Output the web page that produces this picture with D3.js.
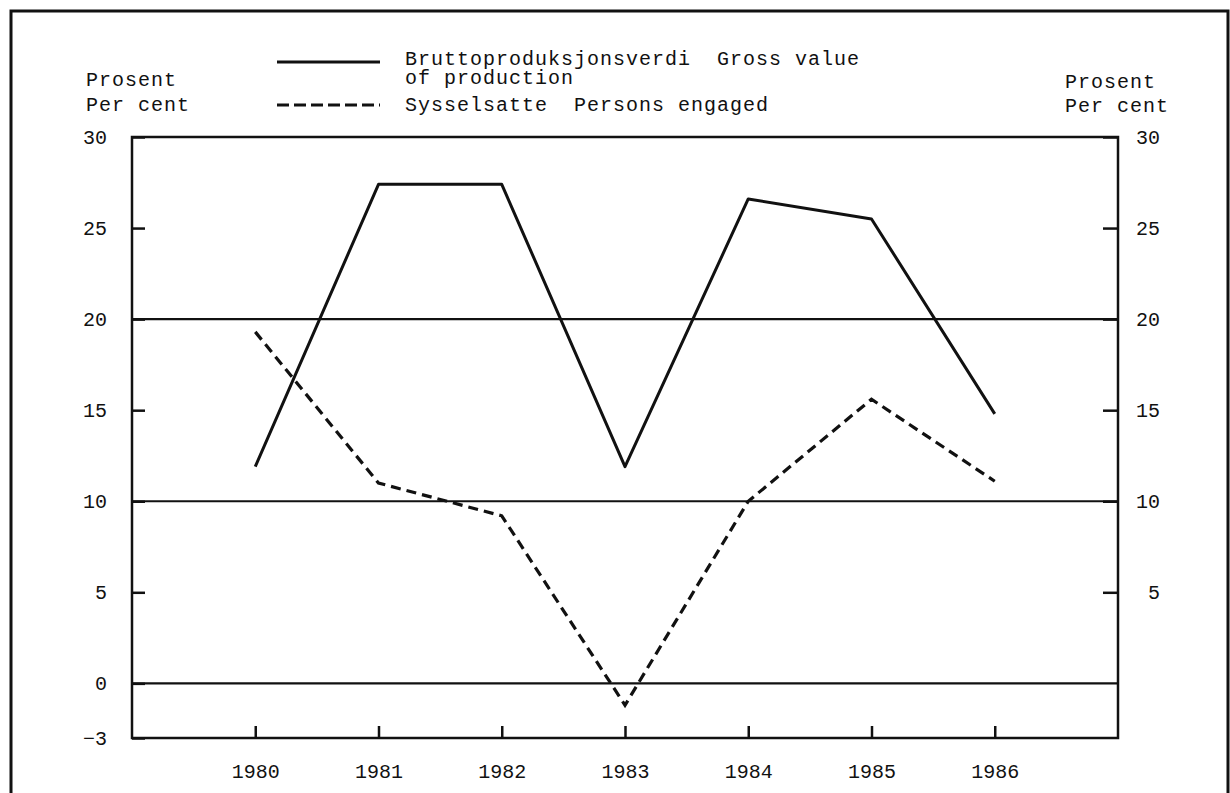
<!DOCTYPE html>
<html>
<head>
<meta charset="utf-8">
<script src="https://cdn.jsdelivr.net/npm/d3@7"></script>
<style>
  html, body { margin: 0; padding: 0; background: #fff; overflow: hidden; }
  #chart { width: 1230px; height: 793px; }
  text { font-family: "Liberation Mono", "DejaVu Sans Mono", monospace; fill: #111; }
</style>
</head>
<body>
<div id="chart"></div>
<script>
const years = [1980, 1981, 1982, 1983, 1984, 1985, 1986];
const grossValue = [11.9, 27.4, 27.4, 11.9, 26.6, 25.5, 14.8];
const personsEngaged = [19.3, 11.0, 9.2, -1.2, 10.0, 15.6, 11.1];
const leftTicks = [30, 25, 20, 15, 10, 5, 0, -3];
const rightTicks = [30, 25, 20, 15, 10, 5];
const gridValues = [0, 10, 20];

const width = 1230;
const height = 793;
const margin = { top: 137, right: 112, bottom: 55, left: 132 };

const svg = d3.select('#chart')
  .append('svg')
  .attr('width', width)
  .attr('height', height)
  .attr('viewBox', `0 0 ${width} ${height}`);

// outer frame of the page (bottom edge lies below the picture)
svg.append('path')
  .attr('d', `M11,${height} V11 H1228 V${height}`)
  .attr('fill', 'none')
  .attr('stroke', '#111')
  .attr('stroke-width', 3);

const innerWidth = width - margin.left - margin.right;
const innerHeight = height - margin.top - margin.bottom;

const x = d3.scaleLinear().domain([1979, 1987]).range([0, innerWidth]);
const y = d3.scaleLinear().domain([-3, 30]).range([innerHeight, 0]);

const g = svg.append('g').attr('transform', `translate(${margin.left}, ${margin.top})`);

// horizontal reference lines
g.selectAll('line.grid')
  .data(gridValues)
  .join('line')
  .attr('class', 'grid')
  .attr('x1', 0)
  .attr('x2', innerWidth)
  .attr('y1', d => y(d))
  .attr('y2', d => y(d))
  .attr('stroke', '#111')
  .attr('stroke-width', 2.2);

// axes
const left = g.append('g')
  .call(d3.axisLeft(y).tickValues(leftTicks).tickSizeInner(-13).tickSizeOuter(0).tickPadding(25).tickFormat(d3.format('d')));

const right = g.append('g')
  .attr('transform', `translate(${innerWidth}, 0)`)
  .call(d3.axisRight(y).tickValues(rightTicks).tickSizeInner(-15).tickSizeOuter(0).tickPadding(17).tickFormat(d3.format('d')));
right.selectAll('text').attr('text-anchor', 'end').attr('x', 42);

const bottom = g.append('g')
  .attr('transform', `translate(0, ${innerHeight})`)
  .call(d3.axisBottom(x).tickValues(years).tickSizeInner(-12).tickSizeOuter(0).tickPadding(26).tickFormat(d3.format('d')));

[left, right, bottom].forEach(ax => {
  ax.attr('font-family', null).attr('font-size', null);
  ax.select('.domain').remove();
  ax.selectAll('line').attr('stroke', '#111').attr('stroke-width', 2.5);
  ax.selectAll('text').attr('font-size', 20).attr('fill', '#111');
});

// plot frame
g.append('rect')
  .attr('width', innerWidth)
  .attr('height', innerHeight)
  .attr('fill', 'none')
  .attr('stroke', '#111')
  .attr('stroke-width', 2.5);

// series lines
const line = d3.line()
  .x((d, i) => x(years[i]))
  .y(d => y(d));

g.append('path')
  .datum(grossValue)
  .attr('d', line)
  .attr('fill', 'none')
  .attr('stroke', '#111')
  .attr('stroke-width', 3)
  .attr('stroke-linejoin', 'round');

g.append('path')
  .datum(personsEngaged)
  .attr('d', line)
  .attr('fill', 'none')
  .attr('stroke', '#111')
  .attr('stroke-width', 3.2)
  .attr('stroke-dasharray', '10 6');

// legend
const legend = svg.append('g');
legend.append('line')
  .attr('x1', 277).attr('x2', 380).attr('y1', 62).attr('y2', 62)
  .attr('stroke', '#111').attr('stroke-width', 3);
legend.append('line')
  .attr('x1', 277).attr('x2', 380).attr('y1', 105).attr('y2', 105)
  .attr('stroke', '#111').attr('stroke-width', 3).attr('stroke-dasharray', '12 5');

const textRows = [
  { x: 405, y: 65, t: 'Bruttoproduksjonsverdi  Gross value' },
  { x: 405, y: 84, t: 'of production' },
  { x: 405, y: 111, t: 'Sysselsatte  Persons engaged' },
  { x: 86, y: 86, t: 'Prosent' },
  { x: 86, y: 111, t: 'Per cent' },
  { x: 1065, y: 88, t: 'Prosent' },
  { x: 1065, y: 112, t: 'Per cent' }
];

legend.selectAll('text')
  .data(textRows)
  .join('text')
  .attr('x', d => d.x)
  .attr('y', d => d.y)
  .attr('font-size', 20)
  .attr('letter-spacing', 1)
  .style('white-space', 'pre')
  .text(d => d.t);
</script>
</body>
</html>
